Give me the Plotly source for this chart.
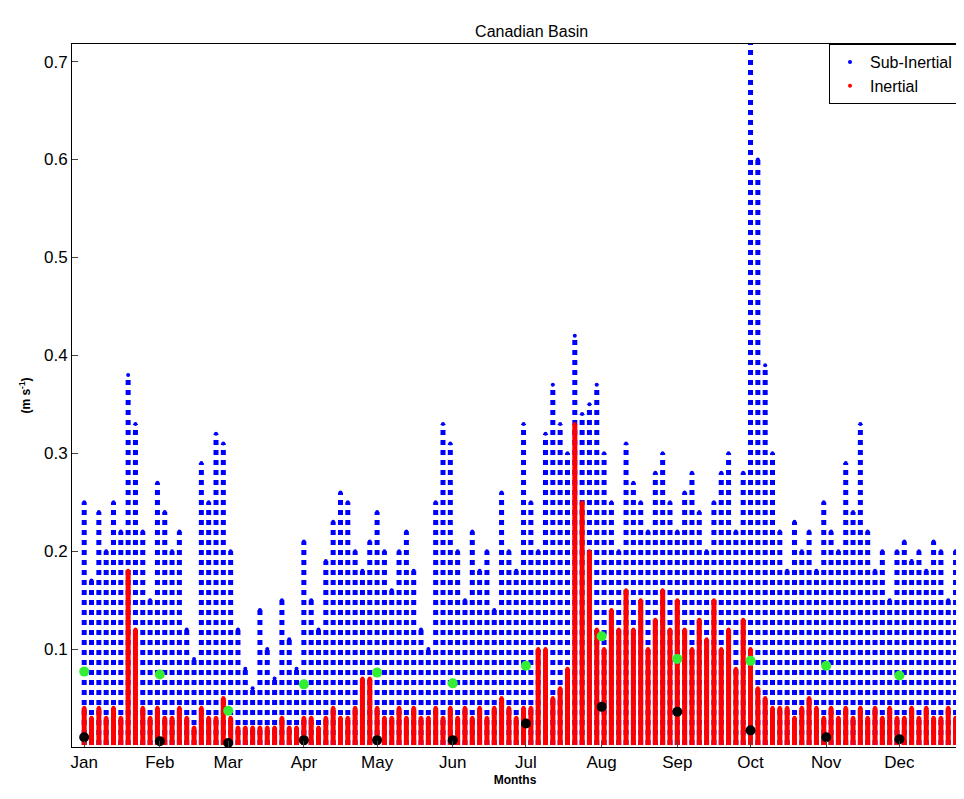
import plotly.graph_objects as go

# sample days (every 3 days) and estimated upper envelope of each series
days = list(range(0, 360, 3))
sub_peak = [0.25, 0.17, 0.24, 0.2, 0.25, 0.22,
            0.38, 0.33, 0.22, 0.15, 0.27, 0.24,
            0.2, 0.22, 0.12, 0.09, 0.29, 0.25,
            0.32, 0.31, 0.2, 0.12, 0.08, 0.06,
            0.14, 0.1, 0.07, 0.15, 0.11, 0.08,
            0.21, 0.15, 0.12, 0.19, 0.23, 0.26,
            0.25, 0.2, 0.18, 0.21, 0.24, 0.2,
            0.16, 0.2, 0.22, 0.18, 0.12, 0.1,
            0.25, 0.33, 0.31, 0.2, 0.15, 0.22,
            0.18, 0.2, 0.14, 0.26, 0.2, 0.18,
            0.33, 0.25, 0.2, 0.32, 0.37, 0.33,
            0.3, 0.42, 0.34, 0.35, 0.37, 0.3,
            0.25, 0.2, 0.31, 0.27, 0.25, 0.22,
            0.28, 0.3, 0.25, 0.22, 0.26, 0.28,
            0.24, 0.2, 0.25, 0.28, 0.3, 0.22,
            0.28, 0.72, 0.6, 0.39, 0.3, 0.22,
            0.18, 0.23, 0.2, 0.22, 0.18, 0.25,
            0.22, 0.2, 0.29, 0.24, 0.33, 0.22,
            0.18, 0.2, 0.15, 0.2, 0.21, 0.19,
            0.2, 0.18, 0.21, 0.2, 0.15, 0.2]
inert_peak = [0.04, 0.03, 0.04, 0.03, 0.04, 0.03,
              0.18, 0.12, 0.04, 0.03, 0.04, 0.03,
              0.03, 0.04, 0.03, 0.02, 0.04, 0.03,
              0.03, 0.05, 0.03, 0.02, 0.02, 0.02,
              0.02, 0.02, 0.02, 0.03, 0.02, 0.02,
              0.03, 0.03, 0.02, 0.03, 0.04, 0.03,
              0.03, 0.04, 0.07, 0.07, 0.04, 0.03,
              0.03, 0.04, 0.03, 0.04, 0.03, 0.03,
              0.04, 0.03, 0.04, 0.03, 0.04, 0.03,
              0.04, 0.03, 0.04, 0.05, 0.04, 0.03,
              0.04, 0.04, 0.1, 0.1, 0.05, 0.06,
              0.08, 0.33, 0.25, 0.2, 0.12, 0.1,
              0.14, 0.12, 0.16, 0.12, 0.15, 0.1,
              0.13, 0.16, 0.12, 0.15, 0.12, 0.1,
              0.13, 0.11, 0.15, 0.1, 0.12, 0.08,
              0.13, 0.1, 0.06, 0.05, 0.04, 0.04,
              0.04, 0.03, 0.04, 0.05, 0.04, 0.03,
              0.04, 0.03, 0.04, 0.03, 0.04, 0.03,
              0.04, 0.03, 0.04, 0.03, 0.03, 0.04,
              0.03, 0.04, 0.03, 0.03, 0.04, 0.03]

month_days = [0, 31, 59, 90, 120, 151, 181, 212, 243, 273, 304, 334]
month_names = ["Jan", "Feb", "Mar", "Apr", "May", "Jun",
               "Jul", "Aug", "Sep", "Oct", "Nov", "Dec"]
sub_mean = [0.077, 0.074, 0.037, 0.064, 0.076, 0.065,
            0.083, 0.113, 0.090, 0.088, 0.083, 0.073]
inert_mean = [0.010, 0.006, 0.004, 0.007, 0.007, 0.007,
              0.024, 0.041, 0.036, 0.017, 0.010, 0.008]


def streaks(xs, tops):
    x, y = [], []
    for d, t in zip(xs, tops):
        x += [d, d, None]
        y += [0.002, t, None]
    return x, y


fig = go.Figure()
sx, sy = streaks(days, sub_peak)
fig.add_trace(go.Scatter(x=sx, y=sy, mode="lines", line=dict(color="blue", width=5, dash="dot"),
                         name="Sub-Inertial", showlegend=False))
fig.add_trace(go.Scatter(x=days, y=sub_peak, mode="markers", marker=dict(color="blue", size=4),
                         name="Sub-Inertial"))
ix, iy = streaks(days, inert_peak)
fig.add_trace(go.Scatter(x=ix, y=iy, mode="lines", line=dict(color="red", width=5),
                         name="Inertial", showlegend=False))
fig.add_trace(go.Scatter(x=days, y=inert_peak, mode="markers", marker=dict(color="red", size=4),
                         name="Inertial"))
fig.add_trace(go.Scatter(x=month_days, y=sub_mean, mode="markers",
                         marker=dict(color="#33ee33", size=10), showlegend=False))
fig.add_trace(go.Scatter(x=month_days, y=inert_mean, mode="markers",
                         marker=dict(color="black", size=10), showlegend=False))

fig.update_layout(
    width=952, height=799, plot_bgcolor="white", paper_bgcolor="white",
    margin=dict(l=64, r=2, t=36, b=60, autoexpand=False),
    font=dict(family="Liberation Sans, Arial", size=17, color="black"),
    title=dict(text="Canadian Basin", x=0.55, y=0.978, font=dict(size=16)),
    legend=dict(x=1, y=1, xanchor="right", yanchor="top", tracegroupgap=0,
                bordercolor="black", borderwidth=1, bgcolor="white", font=dict(size=16)),
)
fig.update_xaxes(range=[-5, 358], tickvals=month_days, ticktext=month_names,
                 ticks="inside", ticklen=6, showline=True, linecolor="black", mirror=True,
                 showgrid=False, zeroline=False,
                 title=dict(text="<b>Months</b>", font=dict(size=12), standoff=4))
fig.update_yaxes(range=[0, 0.718], tickvals=[0.1, 0.2, 0.3, 0.4, 0.5, 0.6, 0.7],
                 ticks="inside", ticklen=6, showline=True, linecolor="black", mirror=True,
                 showgrid=False, zeroline=False,
                 title=dict(text="<b>(m s<sup>-1</sup>)</b>", font=dict(size=12), standoff=10))

fig.write_html("out.html")
